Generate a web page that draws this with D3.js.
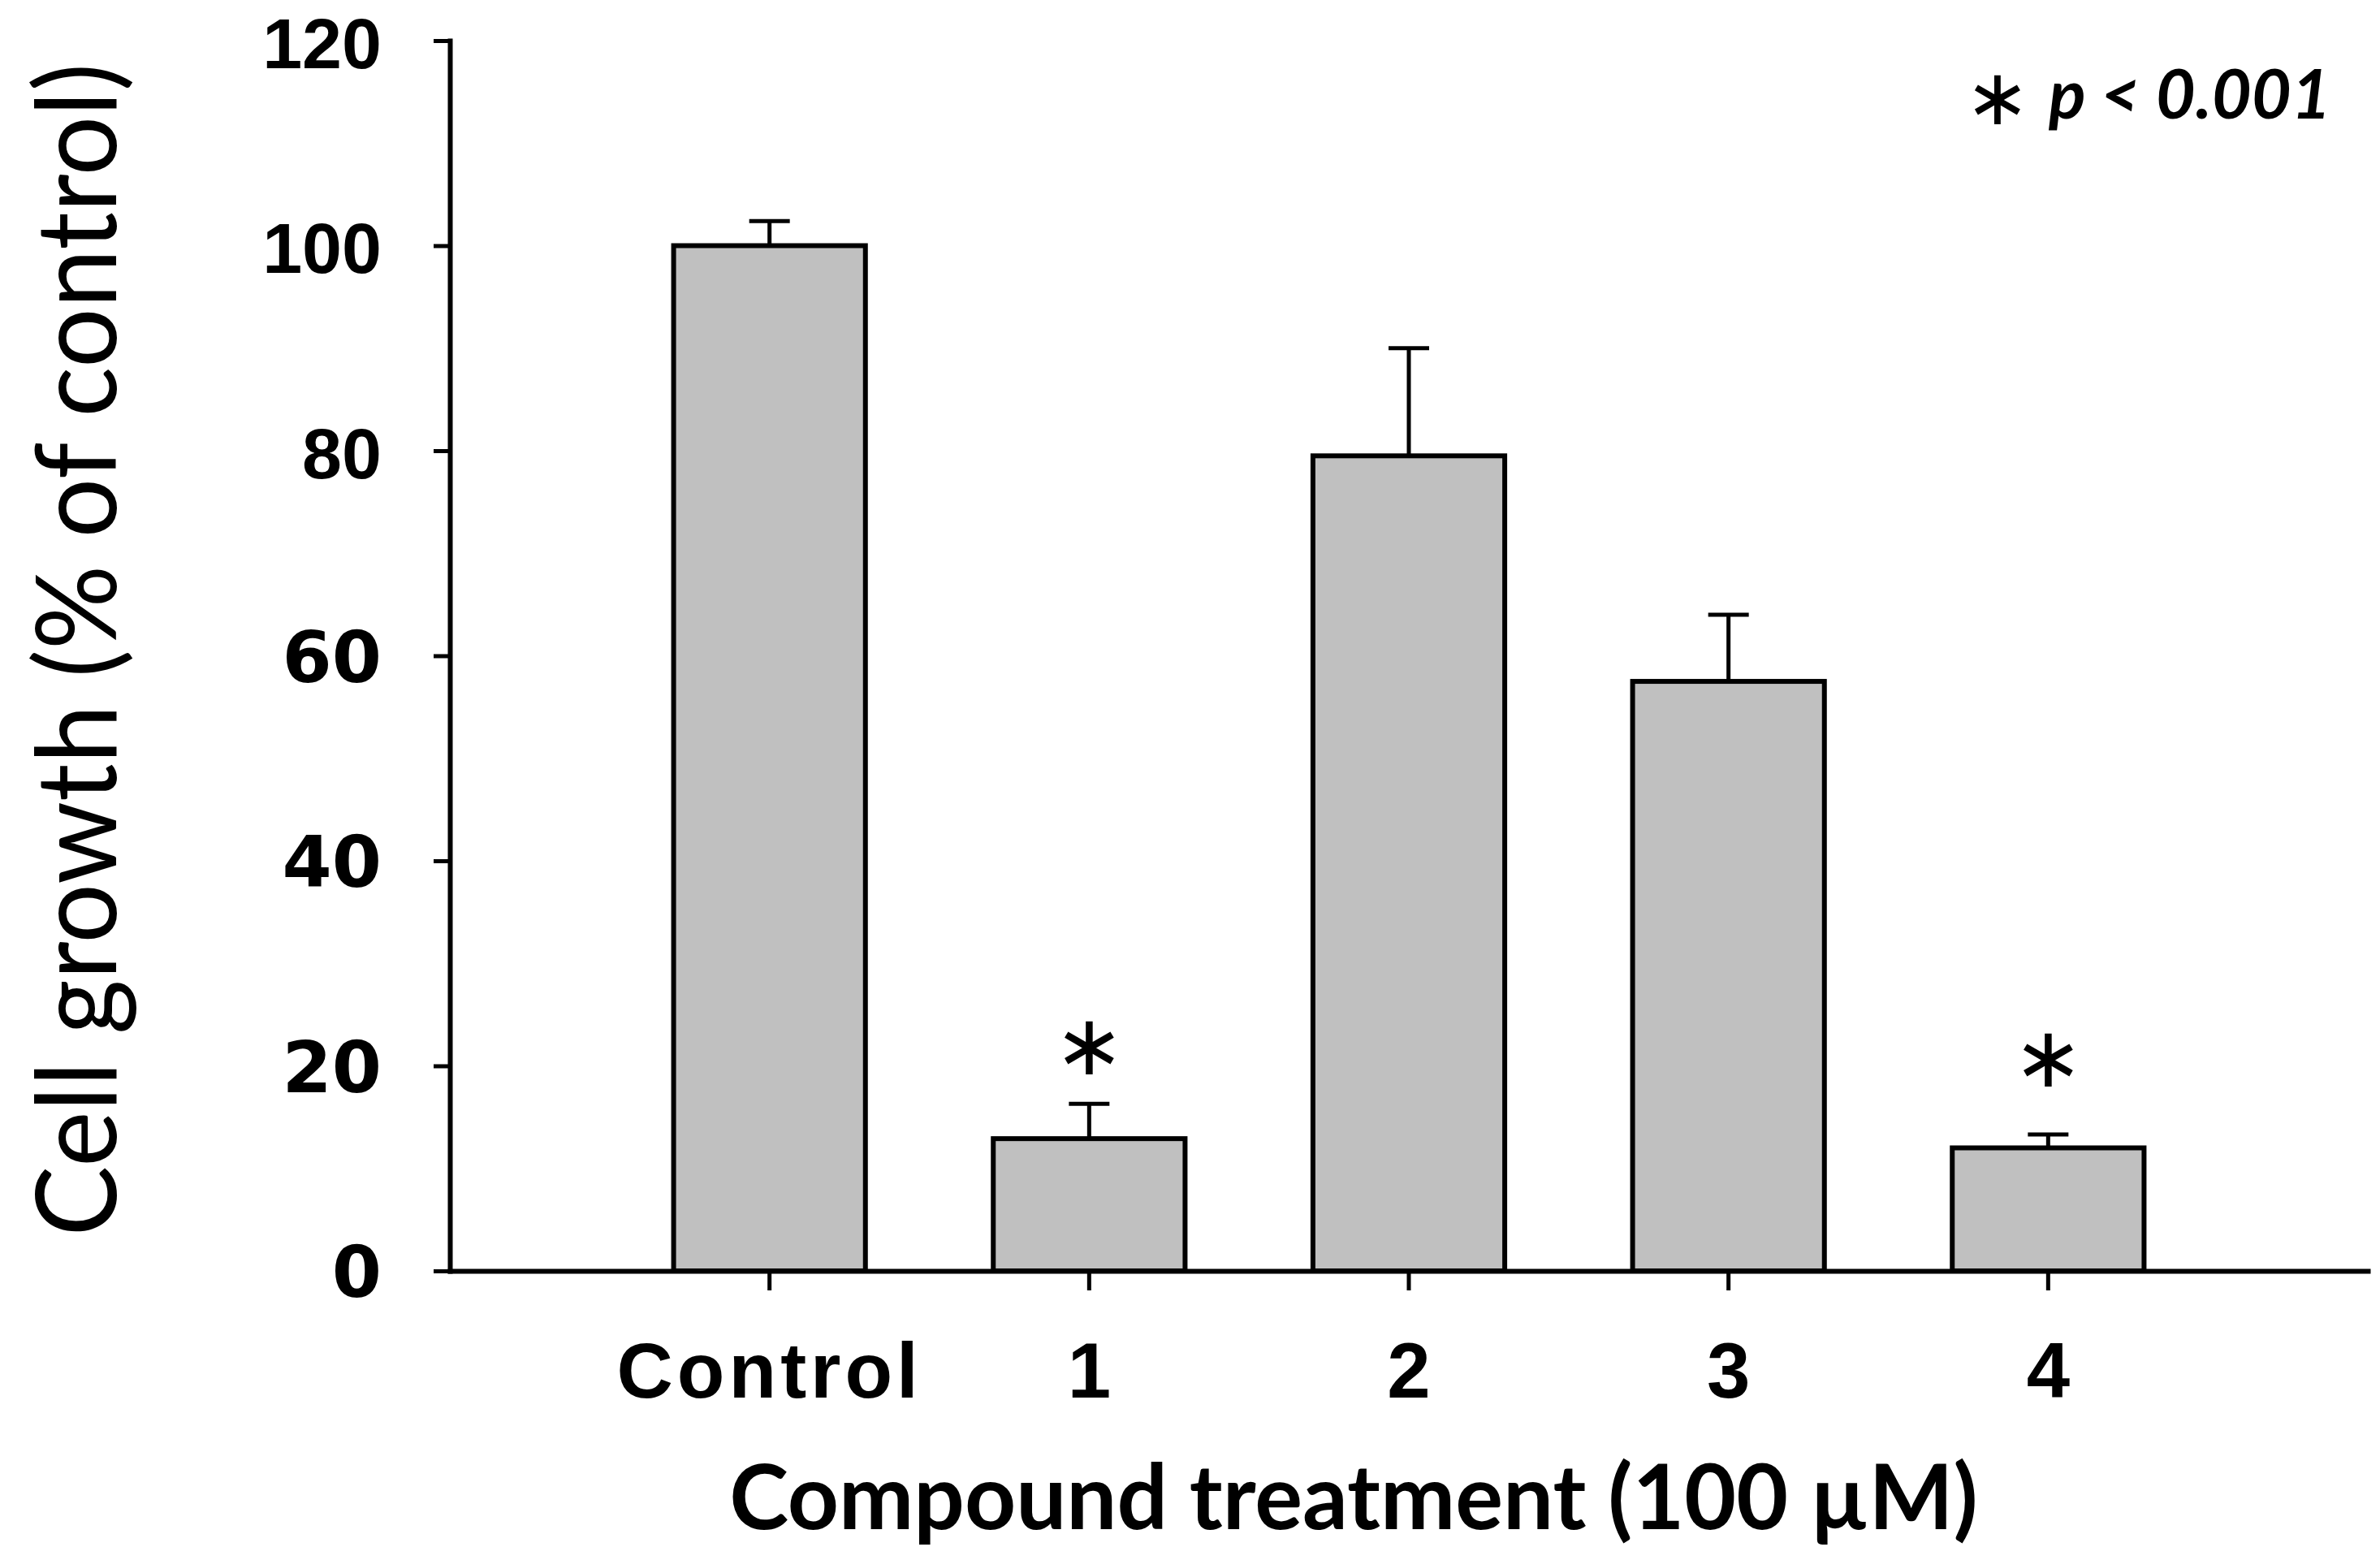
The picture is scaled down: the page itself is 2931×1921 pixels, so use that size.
<!DOCTYPE html>
<html><head><meta charset="utf-8">
<script src="https://cdn.jsdelivr.net/npm/d3@7"></script>
<style>html,body{margin:0;padding:0;background:#fff}</style>
</head><body>
<svg id="chart" width="2931" height="1921"></svg>
<script>
// ---- data ----
const categories = ["Control", "1", "2", "3", "4"];
const values = [100, 12.9, 79.5, 57.5, 12.0];
const errors = [2.4, 3.4, 10.5, 6.5, 1.3];
const starLevels = [null, 22.0, null, null, 20.8];
const yTicks = [0, 20, 40, 60, 80, 100, 120];
const yTitle = "Cell growth (% of control)";
const xTitle = "Compound treatment (100 µM)";
const noteStar = "∗";
const noteText = "p < 0.001";

// ---- layout ----
const svg = d3.select("#chart");
const W = 2931, H = 1921;
svg.append("rect").attr("width", W).attr("height", H).attr("fill", "#fff");

const x = d3.scaleBand().domain(categories).range([554, 2916])
  .paddingInner(0.40).paddingOuter(0.70);
const y = d3.scaleLinear().domain([0, 120]).range([1565, 50]);

const data = categories.map((c, i) => ({c, v: values[i], e: errors[i], s: starLevels[i]}));

// bars
svg.append("g").selectAll("rect").data(data).join("rect")
  .attr("x", d => x(d.c)).attr("width", x.bandwidth())
  .attr("y", d => y(d.v)).attr("height", d => y(0) - y(d.v))
  .attr("fill", "#c0c0c0").attr("stroke", "#000").attr("stroke-width", 6);

// error bars (upper only)
const eg = svg.append("g").attr("stroke", "#000").attr("stroke-width", 5);
const cx = d => x(d.c) + x.bandwidth() / 2;
eg.selectAll("line.v").data(data).join("line").attr("class", "v")
  .attr("x1", cx).attr("x2", cx)
  .attr("y1", d => y(d.v)).attr("y2", d => y(d.v + d.e));
eg.selectAll("line.cap").data(data).join("line").attr("class", "cap")
  .attr("x1", d => cx(d) - 25).attr("x2", d => cx(d) + 25)
  .attr("y1", d => y(d.v + d.e)).attr("y2", d => y(d.v + d.e));

// significance stars
svg.append("g").selectAll("text").data(data.filter(d => d.s != null)).join("text")
  .attr("x", cx).attr("y", d => y(d.s))
  .attr("text-anchor", "middle").attr("dominant-baseline", "central")
  .attr("font-family", "DejaVu Sans").attr("font-size", 104)
  .text(noteStar);

// axes
const yAxis = svg.append("g").attr("transform", "translate(554,0)")
  .call(d3.axisLeft(y).tickValues(yTicks).tickSize(20).tickSizeOuter(0).tickPadding(64));
yAxis.selectAll("text")
  .attr("font-family", d => d >= 80 ? "Liberation Sans, Arial, sans-serif" : "DejaVu Sans, Verdana, sans-serif")
  .attr("font-size", d => d >= 80 ? 88 : 88)
  .attr("dy", d => d >= 80 ? "0.38em" : "0.36em")
  .attr("font-weight", "bold").attr("fill", "#000");

const xAxis = svg.append("g").attr("transform", "translate(0,1565)")
  .call(d3.axisBottom(x).tickSize(24).tickSizeOuter(0).tickPadding(64));
xAxis.selectAll("text")
  .attr("font-family", "Liberation Sans, Arial, sans-serif")
  .attr("font-size", 96).attr("font-weight", "bold").attr("fill", "#000")
  .attr("letter-spacing", d => d.length > 1 ? 5 : 0);

svg.selectAll(".domain, .tick line").attr("stroke", "#000").attr("stroke-width", 6)
  .attr("stroke-linecap", "square");
svg.selectAll(".tick line").attr("stroke-width", 5).attr("stroke-linecap", "butt");

function fitWidth(t, target) {
  const base = +t.attr("font-size");
  const len = t.node().getComputedTextLength();
  const s = base * target / len;
  t.attr("font-size", s);
  return s;
}

// axis titles
const yt = svg.append("text")
  .attr("transform", "translate(143,800) rotate(-90)")
  .attr("text-anchor", "middle")
  .attr("font-family", "Lato, 'Open Sans', sans-serif").attr("font-size", 140)
  .attr("fill", "#000").text(yTitle);
const ys = fitWidth(yt, 1445);
const k = Math.min(77 / (0.506 * ys), 138 / (1.0 * ys));
yt.attr("transform", `translate(143,800) rotate(-90) scale(1,${k})`);

const xt = svg.append("text")
  .attr("x", 1667).attr("y", 1883).attr("text-anchor", "middle")
  .attr("font-family", "Lato, 'Open Sans', sans-serif").attr("font-weight", "bold")
  .attr("font-size", 100).attr("fill", "#000").text(xTitle);
fitWidth(xt, 1538);

// p-value note
svg.append("text").attr("x", 2460).attr("y", 120)
  .attr("text-anchor", "middle").attr("dominant-baseline", "central")
  .attr("font-family", "DejaVu Sans").attr("font-size", 96).text(noteStar);
const nt = svg.append("text").attr("x", 2523).attr("y", 146)
  .attr("font-family", "Lato, 'Open Sans', sans-serif").attr("font-weight", "bold")
  .attr("font-style", "italic").attr("font-size", 80).attr("fill", "#000").text(noteText);
fitWidth(nt, 348);
</script>
</body></html>
